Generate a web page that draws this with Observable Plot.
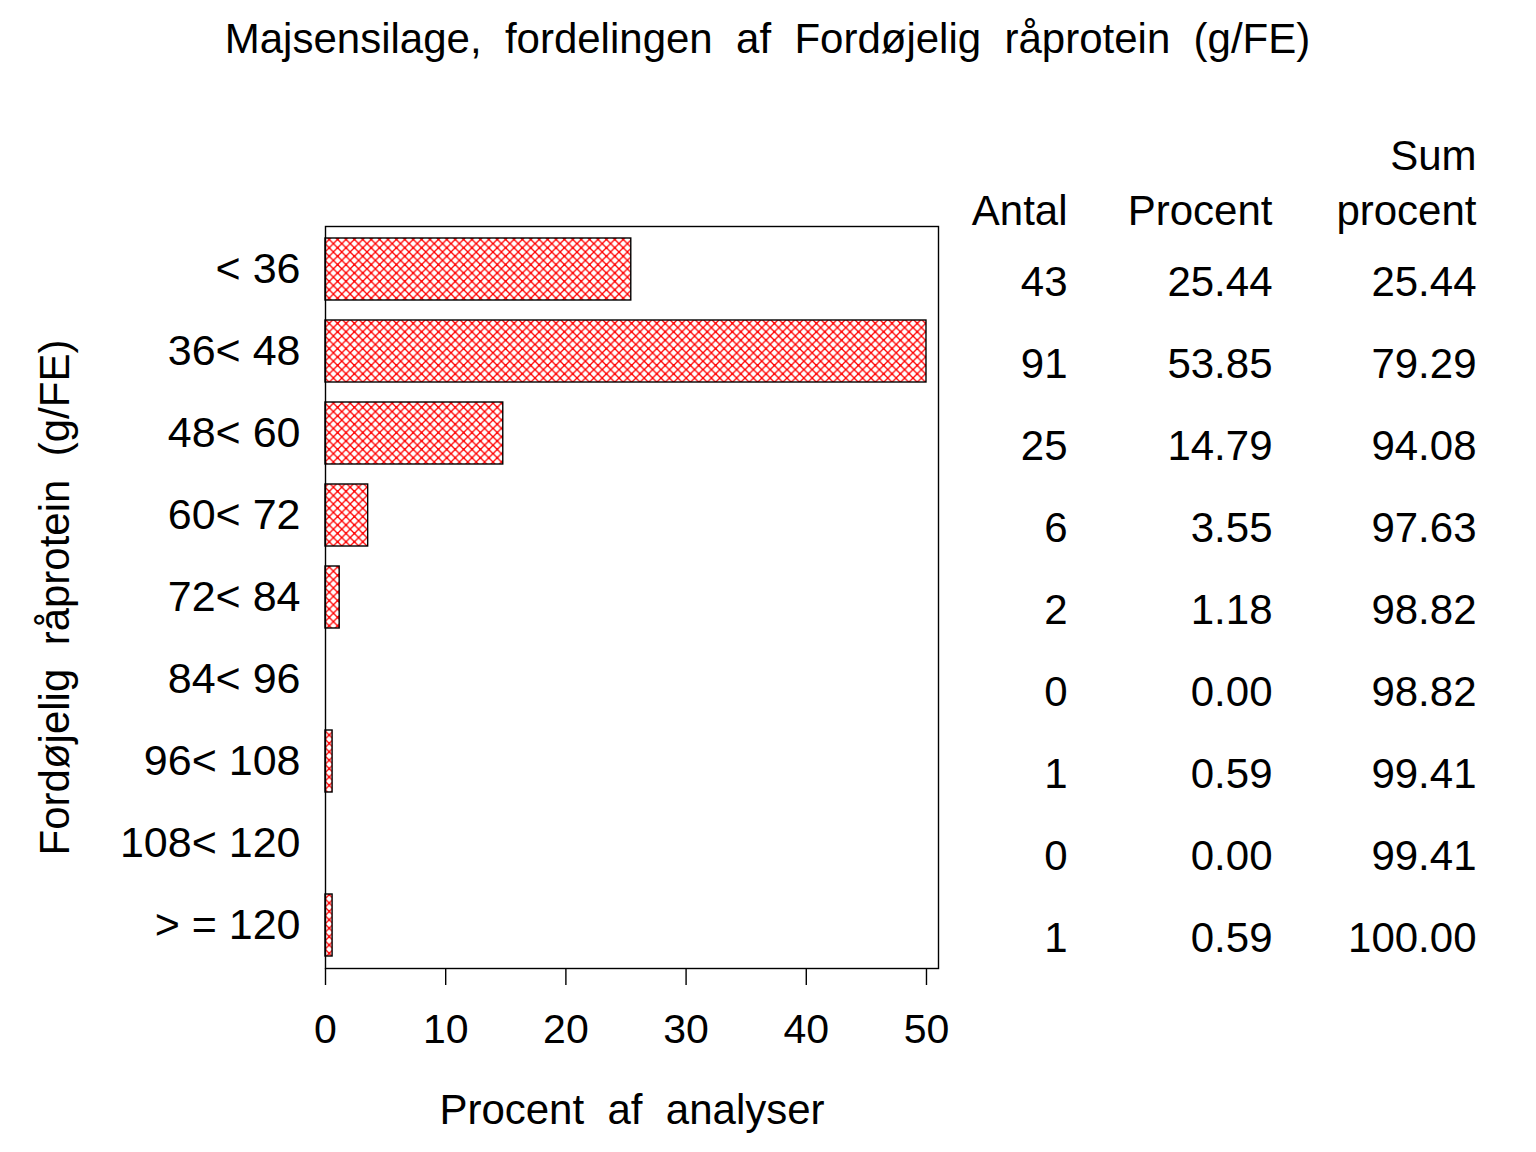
<!DOCTYPE html>
<html>
<head>
<meta charset="utf-8">
<script src="https://cdn.jsdelivr.net/npm/d3@7"></script>
<script src="https://cdn.jsdelivr.net/npm/@observablehq/plot@0.6"></script>
<style>
  body { margin: 0; background: white; }
  svg text { white-space: pre; }
</style>
</head>
<body>
<div id="chart"></div>
<script>
// ---- data ----
const categories = ["< 36", "36< 48", "48< 60", "60< 72", "72< 84", "84< 96", "96< 108", "108< 120", "> = 120"];
const antal = [43, 91, 25, 6, 2, 0, 1, 0, 1];
const procent = [25.44, 53.85, 14.79, 3.55, 1.18, 0.00, 0.59, 0.00, 0.59];
const sumProcent = [25.44, 79.29, 94.08, 97.63, 98.82, 98.82, 99.41, 99.41, 100.00];
const xTicks = [0, 10, 20, 30, 40, 50];
const xDomain = [0, 51];
const barClip = 50;
const titleText = "Majsensilage,  fordelingen  af  Fordøjelig  råprotein  (g/FE)";
const xLabel = "Procent  af  analyser";
const yLabel = "Fordøjelig  råprotein  (g/FE)";
const headers = [
  {col: 0, line: 1, text: "Antal"},
  {col: 1, line: 1, text: "Procent"},
  {col: 2, line: 0, text: "Sum"},
  {col: 2, line: 1, text: "procent"}
];

const rows = categories.map((c, i) => ({cat: c, antal: antal[i], procent: procent[i], sum: sumProcent[i]}));

const font = "'Liberation Sans', Arial, Helvetica, sans-serif";
const colDx = [129, 334, 538];
const headerDy = [-86, -31];
const tableFont = 42;

const plot = Plot.plot({
  width: 1536,
  height: 1152,
  marginLeft: 325,
  marginRight: 598,
  marginTop: 226,
  marginBottom: 184,
  style: {fontFamily: font, fontSize: "40px", color: "black", background: "white", overflow: "visible"},
  x: {domain: xDomain},
  y: {domain: categories, paddingInner: 0.25, paddingOuter: 0.125},
  marks: [
    Plot.barX(rows.filter(d => d.procent > 0), {
      y: "cat", x1: 0, x2: d => Math.min(d.procent, barClip),
      fill: "url(#hatch)", stroke: "black", strokeWidth: 1.4
    }),
    Plot.frame({stroke: "black", strokeWidth: 1.4}),
    Plot.axisX({ticks: xTicks, tickSize: 17, tickPadding: 28, fontSize: 41, label: null, strokeWidth: 1.4}),
    Plot.axisY({tickSize: 0, tickPadding: 25, fontSize: 43, label: null}),
    // table columns
    Plot.text(rows, {y: "cat", text: d => String(d.antal), frameAnchor: "right", dx: colDx[0], dy: 13, textAnchor: "end", fontSize: tableFont}),
    Plot.text(rows, {y: "cat", text: d => d.procent.toFixed(2), frameAnchor: "right", dx: colDx[1], dy: 13, textAnchor: "end", fontSize: tableFont}),
    Plot.text(rows, {y: "cat", text: d => d.sum.toFixed(2), frameAnchor: "right", dx: colDx[2], dy: 13, textAnchor: "end", fontSize: tableFont}),
    // headers
    ...headers.map(h => Plot.text([h], {text: "text", frameAnchor: "top-right", dx: colDx[h.col], dy: headerDy[h.line], textAnchor: "end", fontSize: tableFont})),
    // title
    Plot.text([titleText], {text: d => d, frameAnchor: "top-left", dx: 442, dy: -203, textAnchor: "middle", fontSize: 42}),
    // x label
    Plot.text([xLabel], {text: d => d, frameAnchor: "bottom", dy: 155, textAnchor: "middle", fontSize: 42}),
    // y label
    Plot.text([yLabel], {text: d => d, frameAnchor: "left", dx: -270, rotate: -90, textAnchor: "middle", fontSize: 42})
  ]
});

const svg = d3.select(plot);
const defs = svg.insert("defs", ":first-child");
const s = 8.4;
const pat = defs.append("pattern")
  .attr("id", "hatch").attr("patternUnits", "userSpaceOnUse")
  .attr("width", s).attr("height", s).attr("x", 325).attr("y", 0);
pat.append("rect").attr("width", s).attr("height", s).attr("fill", "white");
pat.append("path")
  .attr("d", `M0,0L${s},${s}M${s},0L0,${s}`)
  .attr("stroke", "#ff0000").attr("stroke-width", 1.3).attr("fill", "none");
pat.append("rect").attr("x", -1).attr("y", -1).attr("width", 2).attr("height", 2).attr("fill", "#ff0000");
pat.append("rect").attr("x", s / 2 - 1).attr("y", s / 2 - 1).attr("width", 2).attr("height", 2).attr("fill", "#ff0000");

document.getElementById("chart").appendChild(plot);
</script>
</body>
</html>
